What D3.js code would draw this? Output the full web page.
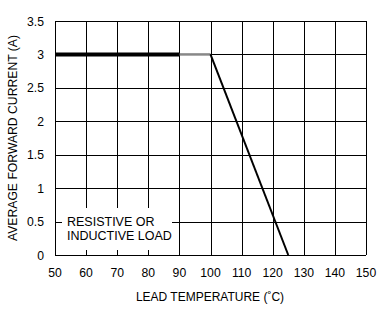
<!DOCTYPE html>
<html><head><meta charset="utf-8">
<script src="https://d3js.org/d3.v7.min.js"></script>
<style>body{margin:0;background:#fff}svg{display:block}text{font-family:"Liberation Sans",Arial,sans-serif;fill:#000}</style>
</head><body><svg id="c" width="387" height="323"></svg>
<script>
const xTicks = [50,60,70,80,90,100,110,120,130,140,150];
const yTicks = [0,0.5,1,1.5,2,2.5,3,3.5];
const yTickLabels = ["0","0.5","1","1.5","2","2.5","3","3.5"];
const thickTemp = [50, 90];
const thickCurrent = [3, 3];
const greyTemp = [90, 100];
const greyCurrent = [3, 3];
const derateTemp = [100, 125];
const derateCurrent = [3, 0];
const legendLines = ["RESISTIVE OR", "INDUCTIVE LOAD"];

const svg = d3.select("#c");
const L=55, R=366, T=21, B=255;
const x = d3.scaleLinear().domain([50,150]).range([L,R]);
const y = d3.scaleLinear().domain([0,3.5]).range([B,T]);

const g = svg.append("g").attr("shape-rendering","crispEdges");
g.selectAll(".vx").data(xTicks).join("line")
  .attr("x1",d=>Math.round(x(d))+0.5).attr("x2",d=>Math.round(x(d))+0.5)
  .attr("y1",T).attr("y2",B).attr("stroke","#000").attr("stroke-width",1.3);
g.selectAll(".hy").data(yTicks).join("line")
  .attr("y1",d=>Math.round(y(d))+0.5).attr("y2",d=>Math.round(y(d))+0.5)
  .attr("x1",L).attr("x2",R).attr("stroke","#000").attr("stroke-width",1.3);

// legend box (white, covers gridlines)
svg.append("rect").attr("x",62).attr("y",208).attr("width",110).attr("height",42).attr("fill","#fff");
svg.selectAll(".lg").data(legendLines).join("text")
  .attr("x",67).attr("y",(d,i)=>226+i*14).attr("font-size",12.5).text(d=>d);

const line = d3.line().x(d=>x(d[0])).y(d=>y(d[1]));
svg.append("path").datum(d3.zip(greyTemp,greyCurrent)).attr("d",line)
  .attr("stroke","#888").attr("stroke-width",2.5).attr("fill","none");
svg.append("path").datum(d3.zip(thickTemp,thickCurrent)).attr("d",line)
  .attr("stroke","#000").attr("stroke-width",4).attr("fill","none");
svg.append("path").datum(d3.zip(derateTemp,derateCurrent)).attr("d",line)
  .attr("stroke","#000").attr("stroke-width",2).attr("fill","none");

svg.selectAll(".xt").data(xTicks).join("text")
  .attr("x",d=>x(d)).attr("y",277).attr("text-anchor","middle").attr("font-size",12.2).text(d=>d);
svg.selectAll(".yt").data(yTicks).join("text")
  .attr("x",44).attr("y",d=>y(d)+4.5).attr("text-anchor","end").attr("font-size",12.2)
  .text((d,i)=>yTickLabels[i]);

svg.append("text").attr("x",210).attr("y",301).attr("text-anchor","middle")
  .attr("font-size",12).text("LEAD TEMPERATURE (˚C)");
svg.append("text").attr("transform",`translate(17,${(T+B)/2}) rotate(-90)`)
  .attr("text-anchor","middle").attr("font-size",12.2).text("AVERAGE FORWARD CURRENT (A)");
</script></body></html>
